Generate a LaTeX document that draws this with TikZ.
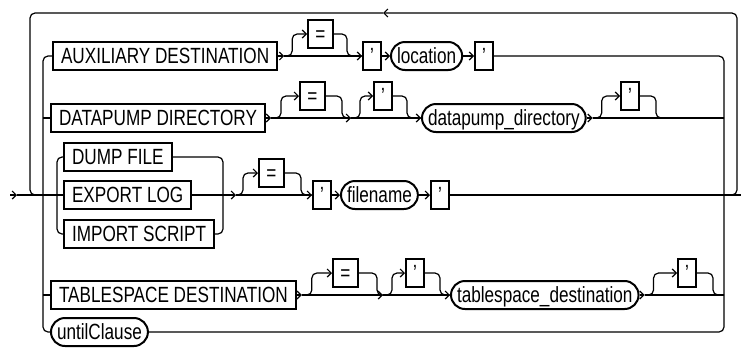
\documentclass[tikz,border=0pt]{standalone}
\usepackage{fontspec}
\newfontfamily\railfont{Liberation Sans}[FakeStretch=0.78]
\usetikzlibrary{arrows.meta}

\tikzset{
  rail/.style={line width=1.2pt},
  chev/.style={rail,-{Straight Barb[length=4pt,width=8pt]}},
  kw/.style={draw, line width=2pt, rectangle, anchor=west, minimum height=28pt,
    inner xsep=8pt, inner ysep=0pt, text height=15.5pt, text depth=0pt,
    font=\railfont\fontsize{22}{22}\selectfont},
  sym/.style={kw, minimum width=25pt, inner xsep=0pt},
  quo/.style={kw, minimum width=18pt, inner xsep=0pt},
  nt/.style={kw, rounded corners=14pt, inner xsep=6pt},
}

\begin{document}
\begin{tikzpicture}[x=1pt,y=1pt]
    \useasboundingbox (0,0) rectangle (741,-349);
    % AUXILIARY DESTINATION row
    \node[kw] (aux) at (52,-56) {AUXILIARY DESTINATION};
    \node[sym] (eqA) at (307,-34) {=};
    \node[quo] (qA1) at (362,-56) {’};
    \node[nt] (loc) at (390,-56) {location};
    \node[quo] (qA2) at (474,-56) {’};
    % DATAPUMP DIRECTORY row
    \node[kw] (dpd) at (50,-118) {DATAPUMP DIRECTORY};
    \node[sym] (eqD) at (299,-96) {=};
    \node[quo] (qD1) at (373,-96) {’};
    \node[nt] (dpdir) at (421,-118) {datapump\_directory};
    \node[quo] (qD2) at (620,-96) {’};
    % file rows (main line)
    \node[kw] (dump) at (63,-157) {DUMP FILE};
    \node[kw] (exp) at (63,-195) {EXPORT LOG};
    \node[kw] (imp) at (63,-234) {IMPORT SCRIPT};
    \node[sym] (eqM) at (258,-173) {=};
    \node[quo] (qM1) at (312,-195) {’};
    \node[nt] (fname) at (340,-195) {filename};
    \node[quo] (qM2) at (430,-195) {’};
    % TABLESPACE DESTINATION row
    \node[kw] (tsd) at (50,-295) {TABLESPACE DESTINATION};
    \node[sym] (eqT) at (332,-273) {=};
    \node[quo] (qT1) at (405,-273) {’};
    \node[nt] (tsdest) at (450,-295) {tablespace\_destination};
    \node[quo] (qT2) at (677,-273) {’};
    % untilClause row
    \node[nt] (until) at (50,-332) {untilClause};

    % fixed points of the rails
    \coordinate (in) at (10,-195);
    \coordinate (out) at (741,-195);
    \coordinate (Ltop) at (43,-56);
    \coordinate (Ld) at (43,-118);
    \coordinate (Lt) at (43,-295);
    \coordinate (Lbot) at (43,-332);
    \coordinate (Rtop) at (724,-56);
    \coordinate (Rd) at (724,-118);
    \coordinate (Rt) at (724,-295);
    \coordinate (Rbot) at (724,-332);
    \coordinate (sLtop) at (57,-157);
    \coordinate (sLbot) at (57,-234);
    \coordinate (sRtop) at (223,-157);
    \coordinate (sRbot) at (223,-234);
    \coordinate (mB) at (236,-195);
    \coordinate (dB2) at (351,-118);
    \coordinate (tB2) at (383,-295);
    \coordinate (lpR) at (731,-195);
    \coordinate (lpRb) at (737,-195);
    \coordinate (lpRt) at (737,-13);
    \coordinate (lpArr) at (383,-13);
    \coordinate (lpLt) at (30,-13);
    \coordinate (lpLb) at (30,-195);
    \coordinate (lpL) at (36,-195);

    % repeat loop
    \draw[chev,rounded corners=5pt] (lpR) -- (lpRb) -- (lpRt) -- (lpArr);
    \draw[rail,rounded corners=5pt] (lpArr) -- (lpLt) -- (lpLb) -- (lpL);
    % choice sides
    \draw[rail,rounded corners=5pt] (aux.west) -- (Ltop) -- (Lbot) -- (until.west);
    \draw[rail,rounded corners=5pt] (qA2.east) -- (Rtop) -- (Rbot) -- (until.east);
    \draw[rail] (Ld) -- (dpd.west);
    \draw[rail] (Lt) -- (tsd.west);

    % AUXILIARY DESTINATION
    \draw[chev] (aux.east) -- ++(6,0) coordinate (aB);
    \draw[chev,rounded corners=5pt] (aB) -- ++(8,0) |- (eqA.west);
    \draw[rail,rounded corners=5pt] (eqA.east) -- ++(13,0) |- (qA1.west);
    \draw[chev] (aB) -- (qA1.west);
    \draw[chev] (qA1.east) -- (loc.west);
    \draw[chev] (loc.east) -- (qA2.west);

    % DATAPUMP DIRECTORY
    \draw[chev] (dpd.east) -- ++(5,0) coordinate (dB);
    \draw[chev,rounded corners=5pt] (dB) -- ++(10,0) |- (eqD.west);
    \draw[rail,rounded corners=5pt] (eqD.east) -- ++(16,0) |- (dB2);
    \draw[chev] (dB) -- (dB2);
    \draw[chev,rounded corners=5pt] (dB2) -- ++(9,0) |- (qD1.west);
    \draw[rail,rounded corners=5pt] (qD1.east) -- ++(14,0) |- (dpdir.west);
    \draw[chev] (dB2) -- (dpdir.west);
    \draw[chev] (dpdir.east) -- ++(6,0) coordinate (dC);
    \draw[chev,rounded corners=5pt] (dC) -- ++(9,0) |- (qD2.west);
    \draw[rail,rounded corners=5pt] (qD2.east) -- ++(16,0) |- (Rd);
    \draw[rail] (dC) -- (Rd);

    % DUMP FILE / EXPORT LOG / IMPORT SCRIPT
    \draw[chev] (in) -- ++(7,0) coordinate (inA);
    \draw[rail] (inA) -- (exp.west);
    \draw[rail,rounded corners=5pt] (dump.west) -- (sLtop) -- (sLbot) -- (imp.west);
    \draw[rail,rounded corners=5pt] (dump.east) -- (sRtop) -- (sRbot) -- (imp.east);
    \draw[chev] (exp.east) -- (mB);
    \draw[chev,rounded corners=5pt] (mB) -- ++(7,0) |- (eqM.west);
    \draw[rail,rounded corners=5pt] (eqM.east) -- ++(16,0) |- (qM1.west);
    \draw[chev] (mB) -- (qM1.west);
    \draw[chev] (qM1.east) -- (fname.west);
    \draw[chev] (fname.east) -- (qM2.west);
    \draw[rail] (qM2.east) -- (out);

    % TABLESPACE DESTINATION
    \draw[chev] (tsd.east) -- ++(5,0) coordinate (tB);
    \draw[chev,rounded corners=5pt] (tB) -- ++(10,0) |- (eqT.west);
    \draw[rail,rounded corners=5pt] (eqT.east) -- ++(18,0) |- (tB2);
    \draw[chev] (tB) -- (tB2);
    \draw[chev,rounded corners=5pt] (tB2) -- ++(9,0) |- (qT1.west);
    \draw[rail,rounded corners=5pt] (qT1.east) -- ++(15,0) |- (tsdest.west);
    \draw[chev] (tB2) -- (tsdest.west);
    \draw[chev] (tsdest.east) -- ++(5,0) coordinate (tC);
    \draw[chev,rounded corners=5pt] (tC) -- ++(9,0) |- (qT2.west);
    \draw[rail,rounded corners=5pt] (qT2.east) -- ++(16,0) |- (Rt);
    \draw[rail] (tC) -- (Rt);
\end{tikzpicture}
\end{document}
